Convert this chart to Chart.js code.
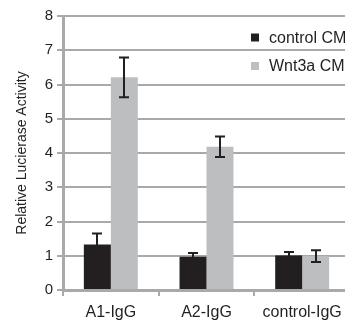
<!DOCTYPE html>
<html>
<head>
<meta charset="utf-8">
<script src="https://cdn.jsdelivr.net/npm/chart.js@4.4.0/dist/chart.umd.min.js"></script>
<style>
  html, body { margin: 0; padding: 0; background: #fff; overflow: hidden; }
  #wrap { width: 345px; height: 324px; overflow: hidden; }
</style>
</head>
<body>
<div id="wrap"><canvas id="chart" width="360" height="324"></canvas></div>
<script>
// data
const categories = ['A1-IgG', 'A2-IgG', 'control-IgG'];
const seriesNames = ['control CM', 'Wnt3a CM'];
const controlValues = [1.33, 0.97, 1.01];
const controlErrors = [0.32, 0.11, 0.10];
const wntValues = [6.21, 4.18, 0.99];
const wntErrors = [0.58, 0.30, 0.17];
const yTicks = [0, 1, 2, 3, 4, 5, 6, 7, 8];

const font = 'Liberation Sans, Arial, Helvetica, sans-serif';
const ink = '#231f20';
const gridGrey = '#a7a9ac';

// error bars
const errorBars = {
  id: 'errorBars',
  afterDatasetsDraw(chart) {
    const ctx = chart.ctx;
    const y = chart.scales.y;
    ctx.save();
    ctx.strokeStyle = ink;
    ctx.lineWidth = 2;
    chart.data.datasets.forEach((ds, i) => {
      const meta = chart.getDatasetMeta(i);
      meta.data.forEach((bar, j) => {
        const v = ds.data[j], e = ds.errors[j];
        const top = y.getPixelForValue(v + e);
        const bot = y.getPixelForValue(v - e);
        const x = Math.round(bar.x);
        ctx.beginPath();
        ctx.moveTo(x, top); ctx.lineTo(x, bot);
        ctx.moveTo(x - 5, top); ctx.lineTo(x + 5, top);
        ctx.moveTo(x - 5, bot); ctx.lineTo(x + 5, bot);
        ctx.stroke();
      });
    });
    ctx.restore();
  }
};

// legend inside the plot, top right
const insideLegend = {
  id: 'insideLegend',
  afterDraw(chart) {
    const ctx = chart.ctx;
    ctx.save();
    ctx.font = '16px ' + font;
    ctx.textBaseline = 'middle';
    chart.data.datasets.forEach((ds, i) => {
      const cy = 37.5 + i * 28.5;
      ctx.fillStyle = ds.backgroundColor;
      ctx.fillRect(251, cy - 4, 8, 8);
      ctx.fillStyle = ink;
      ctx.fillText(ds.label, 269, cy + 1);
    });
    ctx.restore();
  }
};

const ctx = document.getElementById('chart').getContext('2d');
new Chart(ctx, {
  type: 'bar',
  data: {
    labels: categories,
    datasets: [
      { label: seriesNames[0], data: controlValues, errors: controlErrors, backgroundColor: ink },
      { label: seriesNames[1], data: wntValues, errors: wntErrors, backgroundColor: '#bcbec0' },
    ],
  },
  options: {
    responsive: false,
    animation: false,
    devicePixelRatio: 1,
    layout: { padding: { top: 16, right: 10, left: 0, bottom: 0 } },
    datasets: { bar: { categoryPercentage: 0.564, barPercentage: 1.0 } },
    plugins: { legend: { display: false }, tooltip: { enabled: false } },
    scales: {
      x: {
        afterFit: (s) => { s.height = 34; },
        grid: { drawOnChartArea: false, drawTicks: true, tickLength: 6, color: gridGrey, lineWidth: 2 },
        border: { color: gridGrey, width: 3 },
        ticks: { color: ink, padding: 7, font: { family: font, size: 16 } },
      },
      y: {
        min: 0,
        max: 8,
        afterFit: (s) => { s.width = 63; },
        afterBuildTicks: (s) => { s.ticks = yTicks.map(v => ({ value: v })); },
        grid: { color: gridGrey, lineWidth: 2, tickLength: 6 },
        border: { color: gridGrey, width: 3 },
        ticks: { color: ink, padding: 4, font: { family: font, size: 15 } },
        title: {
          display: true,
          text: 'Relative Lucierase Activity',
          color: ink,
          padding: { top: 14, bottom: 0 },
          font: { family: font, size: 14 },
        },
      },
    },
  },
  plugins: [errorBars, insideLegend],
});
</script>
</body>
</html>
